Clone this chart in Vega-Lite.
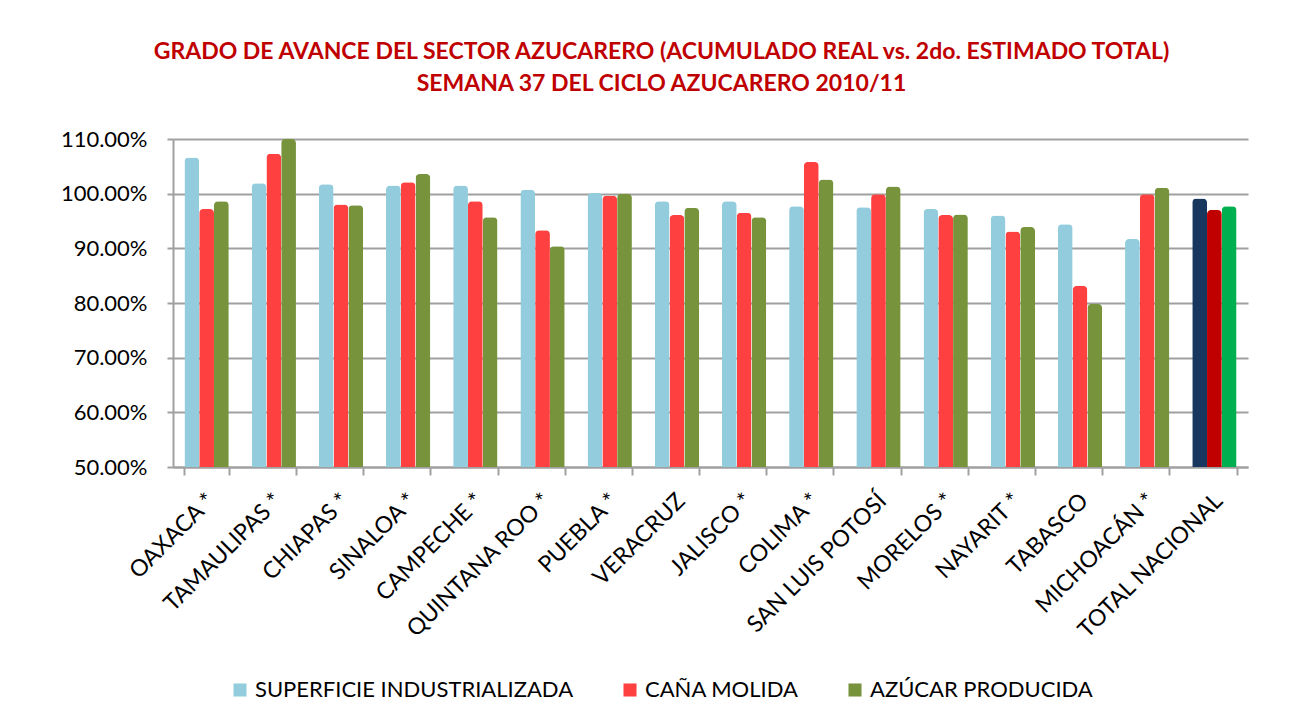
{
  "$schema": "https://vega.github.io/schema/vega-lite/v6.json",
  "width": 1075,
  "height": 328,
  "autosize": {"type": "none"},
  "padding": {"left": 173, "top": 139, "right": 59, "bottom": 260},
  "background": "white",
  "title": {
    "text": ["GRADO DE AVANCE DEL SECTOR AZUCARERO (ACUMULADO REAL vs. 2do. ESTIMADO TOTAL)", "SEMANA 37 DEL CICLO AZUCARERO 2010/11"],
    "color": "#C00000",
    "font": "Lato",
    "fontWeight": "bold",
    "fontSize": 23,
    "lineHeight": 32,
    "anchor": "middle",
    "dx": -49,
    "offset": 32
  },
  "data": {
    "values": [
      {"estado": "OAXACA *", "serie": "SUPERFICIE INDUSTRIALIZADA", "valor": 1.066},
      {"estado": "OAXACA *", "serie": "CAÑA MOLIDA", "valor": 0.972},
      {"estado": "OAXACA *", "serie": "AZÚCAR PRODUCIDA", "valor": 0.986},
      {"estado": "TAMAULIPAS *", "serie": "SUPERFICIE INDUSTRIALIZADA", "valor": 1.019},
      {"estado": "TAMAULIPAS *", "serie": "CAÑA MOLIDA", "valor": 1.073},
      {"estado": "TAMAULIPAS *", "serie": "AZÚCAR PRODUCIDA", "valor": 1.100},
      {"estado": "CHIAPAS *", "serie": "SUPERFICIE INDUSTRIALIZADA", "valor": 1.017},
      {"estado": "CHIAPAS *", "serie": "CAÑA MOLIDA", "valor": 0.980},
      {"estado": "CHIAPAS *", "serie": "AZÚCAR PRODUCIDA", "valor": 0.979},
      {"estado": "SINALOA *", "serie": "SUPERFICIE INDUSTRIALIZADA", "valor": 1.015},
      {"estado": "SINALOA *", "serie": "CAÑA MOLIDA", "valor": 1.021},
      {"estado": "SINALOA *", "serie": "AZÚCAR PRODUCIDA", "valor": 1.036},
      {"estado": "CAMPECHE *", "serie": "SUPERFICIE INDUSTRIALIZADA", "valor": 1.015},
      {"estado": "CAMPECHE *", "serie": "CAÑA MOLIDA", "valor": 0.986},
      {"estado": "CAMPECHE *", "serie": "AZÚCAR PRODUCIDA", "valor": 0.957},
      {"estado": "QUINTANA ROO *", "serie": "SUPERFICIE INDUSTRIALIZADA", "valor": 1.007},
      {"estado": "QUINTANA ROO *", "serie": "CAÑA MOLIDA", "valor": 0.933},
      {"estado": "QUINTANA ROO *", "serie": "AZÚCAR PRODUCIDA", "valor": 0.904},
      {"estado": "PUEBLA *", "serie": "SUPERFICIE INDUSTRIALIZADA", "valor": 1.001},
      {"estado": "PUEBLA *", "serie": "CAÑA MOLIDA", "valor": 0.996},
      {"estado": "PUEBLA *", "serie": "AZÚCAR PRODUCIDA", "valor": 1.000},
      {"estado": "VERACRUZ", "serie": "SUPERFICIE INDUSTRIALIZADA", "valor": 0.986},
      {"estado": "VERACRUZ", "serie": "CAÑA MOLIDA", "valor": 0.961},
      {"estado": "VERACRUZ", "serie": "AZÚCAR PRODUCIDA", "valor": 0.974},
      {"estado": "JALISCO *", "serie": "SUPERFICIE INDUSTRIALIZADA", "valor": 0.986},
      {"estado": "JALISCO *", "serie": "CAÑA MOLIDA", "valor": 0.965},
      {"estado": "JALISCO *", "serie": "AZÚCAR PRODUCIDA", "valor": 0.957},
      {"estado": "COLIMA *", "serie": "SUPERFICIE INDUSTRIALIZADA", "valor": 0.977},
      {"estado": "COLIMA *", "serie": "CAÑA MOLIDA", "valor": 1.058},
      {"estado": "COLIMA *", "serie": "AZÚCAR PRODUCIDA", "valor": 1.026},
      {"estado": "SAN LUIS POTOSÍ", "serie": "SUPERFICIE INDUSTRIALIZADA", "valor": 0.975},
      {"estado": "SAN LUIS POTOSÍ", "serie": "CAÑA MOLIDA", "valor": 0.999},
      {"estado": "SAN LUIS POTOSÍ", "serie": "AZÚCAR PRODUCIDA", "valor": 1.013},
      {"estado": "MORELOS *", "serie": "SUPERFICIE INDUSTRIALIZADA", "valor": 0.972},
      {"estado": "MORELOS *", "serie": "CAÑA MOLIDA", "valor": 0.961},
      {"estado": "MORELOS *", "serie": "AZÚCAR PRODUCIDA", "valor": 0.962},
      {"estado": "NAYARIT *", "serie": "SUPERFICIE INDUSTRIALIZADA", "valor": 0.960},
      {"estado": "NAYARIT *", "serie": "CAÑA MOLIDA", "valor": 0.931},
      {"estado": "NAYARIT *", "serie": "AZÚCAR PRODUCIDA", "valor": 0.939},
      {"estado": "TABASCO", "serie": "SUPERFICIE INDUSTRIALIZADA", "valor": 0.944},
      {"estado": "TABASCO", "serie": "CAÑA MOLIDA", "valor": 0.831},
      {"estado": "TABASCO", "serie": "AZÚCAR PRODUCIDA", "valor": 0.798},
      {"estado": "MICHOACÁN *", "serie": "SUPERFICIE INDUSTRIALIZADA", "valor": 0.917},
      {"estado": "MICHOACÁN *", "serie": "CAÑA MOLIDA", "valor": 0.999},
      {"estado": "MICHOACÁN *", "serie": "AZÚCAR PRODUCIDA", "valor": 1.011},
      {"estado": "TOTAL NACIONAL", "serie": "SUPERFICIE INDUSTRIALIZADA", "valor": 0.991},
      {"estado": "TOTAL NACIONAL", "serie": "CAÑA MOLIDA", "valor": 0.970},
      {"estado": "TOTAL NACIONAL", "serie": "AZÚCAR PRODUCIDA", "valor": 0.977}
    ]
  },
  "encoding": {
    "x": {
      "field": "estado",
      "type": "nominal",
      "sort": ["OAXACA *", "TAMAULIPAS *", "CHIAPAS *", "SINALOA *", "CAMPECHE *", "QUINTANA ROO *", "PUEBLA *", "VERACRUZ", "JALISCO *", "COLIMA *", "SAN LUIS POTOSÍ", "MORELOS *", "NAYARIT *", "TABASCO", "MICHOACÁN *", "TOTAL NACIONAL"],
      "scale": {"paddingInner": 0.34, "paddingOuter": 0.17},
      "title": null,
      "axis": {
        "labelAngle": -45,
        "labelAlign": "right",
        "labelBaseline": "middle",
        "labelFont": "Lato",
        "labelFontSize": 23,
        "labelColor": "#000000",
        "labelOffset": 4,
        "labelPadding": 22,
        "labelLimit": 400,
        "tickBand": "extent",
        "tickColor": "#A0A0A0",
        "tickWidth": 2,
        "tickSize": 8,
        "domainColor": "#A0A0A0",
        "domainWidth": 2,
        "grid": false
      }
    },
    "xOffset": {
      "field": "serie",
      "type": "nominal",
      "sort": ["SUPERFICIE INDUSTRIALIZADA", "CAÑA MOLIDA", "AZÚCAR PRODUCIDA"],
      "scale": {"paddingInner": 0, "paddingOuter": 0}
    },
    "y": {
      "field": "valor",
      "type": "quantitative",
      "scale": {"domain": [0.5, 1.1], "zero": false, "clamp": true, "nice": false},
      "title": null,
      "axis": {
        "values": [0.5, 0.6, 0.7, 0.8, 0.9, 1.0, 1.1],
        "format": ".2%",
        "labelFont": "Lato",
        "labelFontSize": 22,
        "labelColor": "#000000",
        "labelPadding": 20,
        "grid": true,
        "gridColor": "#A0A0A0",
        "gridWidth": 2,
        "domainColor": "#A0A0A0",
        "domainWidth": 2,
        "tickColor": "#A0A0A0",
        "tickWidth": 2,
        "tickSize": 6
      }
    }
  },
  "layer": [
    {
      "transform": [{"filter": "datum.estado !== 'TOTAL NACIONAL'"}],
      "mark": {"type": "bar", "cornerRadiusTopLeft": 4, "cornerRadiusTopRight": 4},
      "encoding": {
        "color": {
          "field": "serie",
          "type": "nominal",
          "sort": ["SUPERFICIE INDUSTRIALIZADA", "CAÑA MOLIDA", "AZÚCAR PRODUCIDA"],
          "scale": {"domain": ["SUPERFICIE INDUSTRIALIZADA", "CAÑA MOLIDA", "AZÚCAR PRODUCIDA"], "range": ["#93CDDD", "#FF4040", "#77933C"]},
          "legend": {
            "title": null,
            "orient": "none",
            "direction": "horizontal",
            "legendX": 56,
            "legendY": 540,
            "symbolType": "square",
            "symbolSize": 170,
            "symbolStrokeWidth": 0,
            "labelFont": "Lato",
            "labelFontSize": 22,
            "labelColor": "#000000",
            "labelOffset": 4,
            "columnPadding": 45,
            "labelLimit": 400
          }
        }
      }
    },
    {
      "transform": [{"filter": "datum.estado === 'TOTAL NACIONAL'"}],
      "mark": {"type": "bar", "cornerRadiusTopLeft": 4, "cornerRadiusTopRight": 4},
      "encoding": {
        "color": {
          "field": "serie",
          "type": "nominal",
          "scale": {"domain": ["SUPERFICIE INDUSTRIALIZADA", "CAÑA MOLIDA", "AZÚCAR PRODUCIDA"], "range": ["#17375E", "#C00000", "#00B050"]},
          "legend": null
        }
      }
    }
  ],
  "resolve": {"scale": {"color": "independent"}},
  "config": {"view": {"stroke": null}}
}
